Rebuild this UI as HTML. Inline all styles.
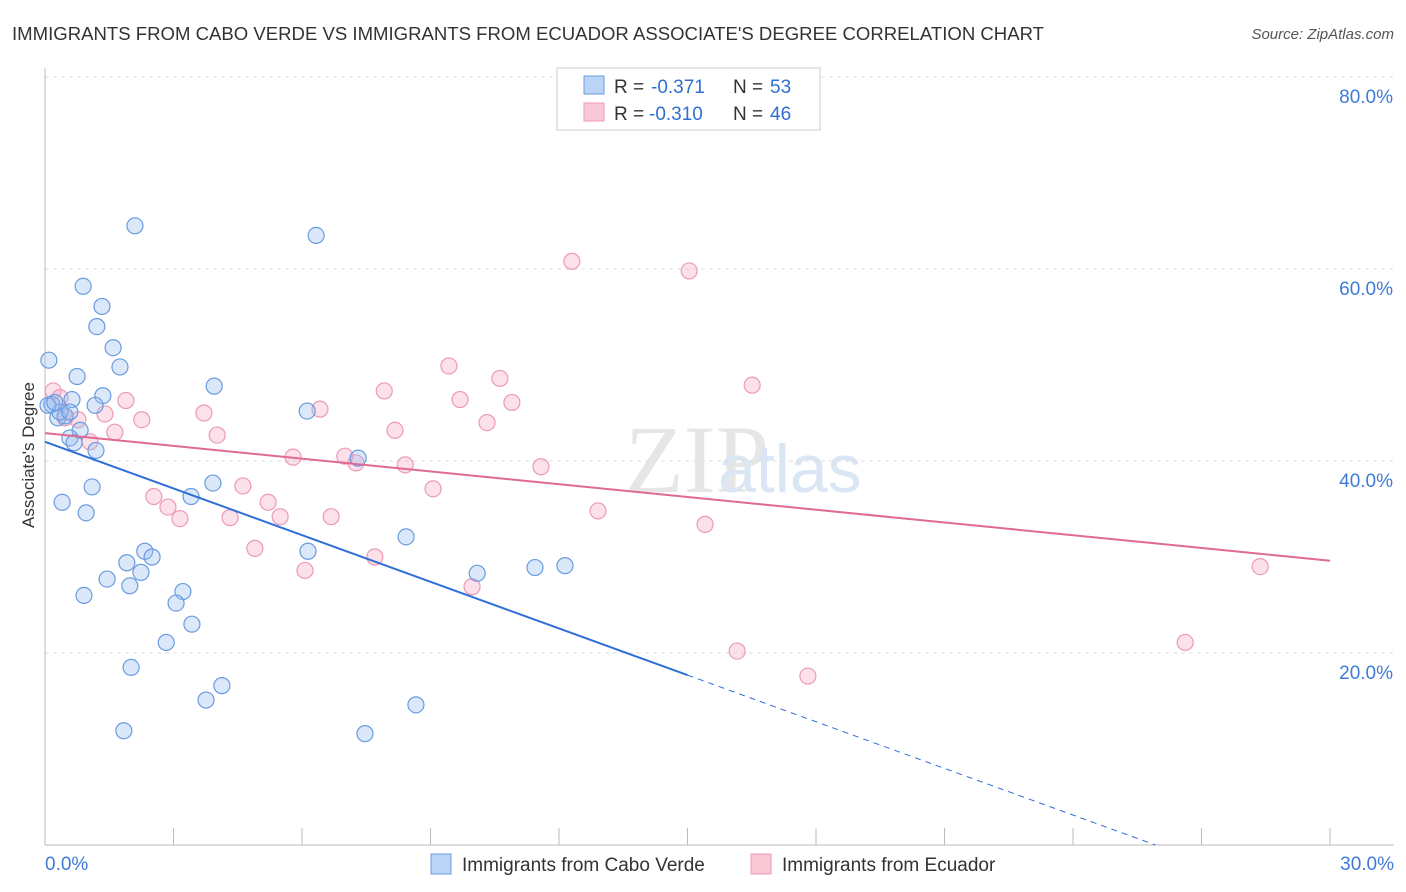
<!DOCTYPE html>
<html><head><meta charset="utf-8"><style>
body{margin:0;background:#fff;font-family:"Liberation Sans",sans-serif;}
#wrap{position:relative;width:1406px;height:892px;overflow:hidden;}
</style></head><body>
<div id="wrap">
<svg id="svg" width="1406" height="892" xmlns="http://www.w3.org/2000/svg">
<text x="12" y="40" font-size="18.6" fill="#333" textLength="1032" lengthAdjust="spacingAndGlyphs">IMMIGRANTS FROM CABO VERDE VS IMMIGRANTS FROM ECUADOR ASSOCIATE'S DEGREE CORRELATION CHART</text>
<text x="1394" y="39" font-size="15" fill="#555" text-anchor="end" font-style="italic">Source: ZipAtlas.com</text>
<text x="625" y="492" font-size="96" fill="#e6e6e6" font-family="Liberation Serif">ZIP</text>
<text x="718" y="492" font-size="68" fill="#dbe6f4">atlas</text>
<text x="34" y="455" font-size="17" fill="#333" text-anchor="middle" transform="rotate(-90 34 455)">Associate's Degree</text>
<g id="grid"></g><g id="pts"></g><g id="lines"></g>
<g>
<rect x="557" y="68" width="263" height="62" fill="#fff" stroke="#ccc"/>
<rect x="584" y="76" width="20" height="18" fill="#b9d4f5" stroke="#6a9be0"/>
<rect x="584" y="103" width="20" height="18" fill="#f9c8d7" stroke="#ec9ab4"/>
<text x="614" y="93" font-size="19" fill="#333">R =</text>
<text x="651" y="93" font-size="19" fill="#2f6fcf">-0.371</text>
<text x="733" y="93" font-size="19" fill="#333">N =</text>
<text x="770" y="93" font-size="19" fill="#2f6fcf">53</text>
<text x="614" y="120" font-size="19" fill="#333">R =</text>
<text x="649" y="120" font-size="19" fill="#2f6fcf">-0.310</text>
<text x="733" y="120" font-size="19" fill="#333">N =</text>
<text x="770" y="120" font-size="19" fill="#2f6fcf">46</text>
</g>
<g>
<rect x="431" y="854" width="20" height="20" fill="#b9d4f5" stroke="#6a9be0"/>
<text x="462" y="871" font-size="19" fill="#333">Immigrants from Cabo Verde</text>
<rect x="751" y="854" width="20" height="20" fill="#f9c8d7" stroke="#ec9ab4"/>
<text x="782" y="871" font-size="19" fill="#333">Immigrants from Ecuador</text>
</g>
</svg></div>
<script>
const blueX=[2.10,6.33,0.89,1.33,1.21,1.59,0.09,1.75,0.75,3.95,1.35,0.63,1.17,0.16,6.12,0.30,0.47,0.35,0.82,0.58,0.68,1.19,7.31,1.10,3.92,3.41,0.40,0.96,8.43,2.33,2.50,6.14,1.91,2.24,1.45,10.09,11.44,12.14,1.98,3.22,0.91,3.06,3.43,2.83,2.01,4.13,3.76,8.66,1.84,7.47,0.07,0.23,0.58];
const blueY=[64.5,63.5,58.2,56.1,54.0,51.8,50.5,49.8,48.8,47.8,46.8,46.4,45.8,45.9,45.2,44.5,44.7,45.1,43.2,42.4,41.9,41.1,40.3,37.3,37.7,36.3,35.7,34.6,32.1,30.6,30.0,30.6,29.4,28.4,27.7,28.3,28.9,29.1,27.0,26.4,26.0,25.2,23.0,21.1,18.5,16.6,15.1,14.6,11.9,11.6,45.8,46.1,45.1];
const pinkX=[12.30,15.04,9.43,10.62,16.51,7.92,0.19,0.35,1.89,9.69,10.90,6.42,1.40,3.71,2.26,0.77,10.32,8.17,1.63,4.02,1.05,5.79,7.00,7.26,8.41,11.58,9.06,4.62,2.54,5.21,2.87,12.91,5.49,6.68,4.32,3.15,15.41,4.90,7.70,6.07,9.97,16.16,26.62,17.81,28.37,0.47];
const pinkY=[60.8,59.8,49.9,48.6,47.9,47.3,47.3,46.6,46.3,46.4,46.1,45.4,44.9,45.0,44.3,44.3,44.0,43.2,43.0,42.7,42.0,40.4,40.5,39.8,39.6,39.4,37.1,37.4,36.3,35.7,35.2,34.8,34.2,34.2,34.1,34.0,33.4,30.9,30.0,28.6,26.9,20.2,21.1,17.6,29.0,44.5];
const yTicks=[20,40,60,80];
const yTickLabels=["20.0%","40.0%","60.0%","80.0%"];
const blueTrend=[42.0,-1.62];
const pinkTrend=[42.9,-0.443];
const NS="http://www.w3.org/2000/svg";
const X=v=>45+v/30*1285, Y=v=>845-v*9.6;
function mk(t,a,p){const e=document.createElementNS(NS,t);for(const k in a)e.setAttribute(k,a[k]);p.appendChild(e);return e;}
const g=document.getElementById('grid');
yTicks.forEach((t,i)=>{
 const l=mk('line',{x1:45,x2:1394,y1:Y(t),y2:Y(t),stroke:'#ddd','stroke-dasharray':'4,4'},g);
 
 
 const tx=mk('text',{x:1393,y:Y(t)+26,'font-size':19,fill:'#3f7bd6','text-anchor':'end'},g);tx.textContent=yTickLabels[i];
 
 
});
const ax=mk('line',{x1:45,x2:1394,y1:845,y2:845,stroke:'#bbb'},g);


const ay=mk('line',{x1:45,x2:45,y1:68,y2:845,stroke:'#bbb'},g);


for(let i=0;i<=10;i++){const t=mk('line',{x1:X(i*3),x2:X(i*3),y1:828,y2:845,stroke:'#bbb'},g);
 
 }
const xl0=mk('text',{x:45,y:870,'font-size':19,fill:'#3f7bd6'},g);xl0.textContent='0.0%';


const xl1=mk('text',{x:1394,y:870,'font-size':19,fill:'#3f7bd6','text-anchor':'end'},g);xl1.textContent='30.0%';


const p=document.getElementById('pts');
pinkX.forEach((x,i)=>{const c=mk('circle',{cx:X(x),cy:Y(pinkY[i]),r:8,fill:'rgba(245,170,195,0.35)',stroke:'#ec9ab4','stroke-width':1.2},p);
 
 });
blueX.forEach((x,i)=>{const c=mk('circle',{cx:X(x),cy:Y(blueY[i]),r:8,fill:'rgba(150,190,240,0.35)',stroke:'#6a9be0','stroke-width':1.2},p);
 
 });
const L=document.getElementById('lines');
const b1=mk('line',{x1:X(0),y1:Y(blueTrend[0]),x2:X(15),y2:Y(blueTrend[0]+blueTrend[1]*15),stroke:'#2f6fd6','stroke-width':2},L);


const xe=-blueTrend[0]/blueTrend[1];
const b2=mk('line',{x1:X(15),y1:Y(blueTrend[0]+blueTrend[1]*15),x2:X(xe),y2:Y(0),stroke:'#2f6fd6','stroke-width':1,'stroke-dasharray':'6,5'},L);


const p1=mk('line',{x1:X(0),y1:Y(pinkTrend[0]),x2:X(30),y2:Y(pinkTrend[0]+pinkTrend[1]*30),stroke:'#e06a93','stroke-width':2},L);


</script>
</body></html>
